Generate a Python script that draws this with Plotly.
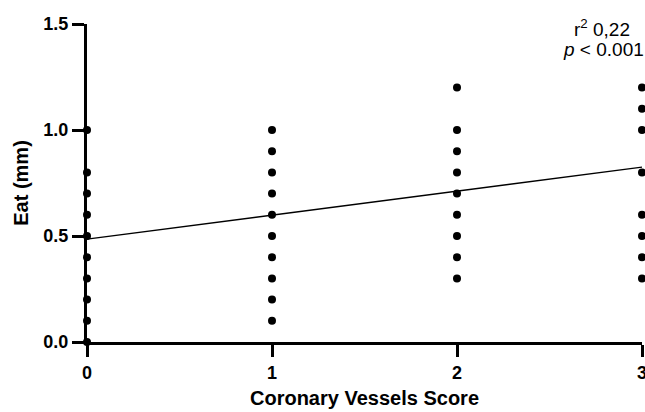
import plotly.graph_objects as go

# Data
score_0 = [0.0, 0.1, 0.2, 0.3, 0.4, 0.5, 0.6, 0.7, 0.8, 1.0]
score_1 = [0.1, 0.2, 0.3, 0.4, 0.5, 0.6, 0.7, 0.8, 0.9, 1.0]
score_2 = [0.3, 0.4, 0.5, 0.6, 0.7, 0.8, 0.9, 1.0, 1.2]
score_3 = [0.3, 0.4, 0.5, 0.6, 0.8, 1.0, 1.1, 1.2]
scores = [0, 1, 2, 3]
fit_x = [0, 3]
fit_y = [0.485, 0.825]
y_ticks = [0.0, 0.5, 1.0, 1.5]

xs, ys = [], []
for s, vals in zip(scores, [score_0, score_1, score_2, score_3]):
    xs += [s] * len(vals)
    ys += vals

FONT = "Arial, Liberation Sans, sans-serif"

fig = go.Figure()
fig.add_trace(go.Scatter(x=fit_x, y=fit_y, mode="lines",
                         line=dict(color="black", width=1.3),
                         cliponaxis=False, showlegend=False))
fig.add_trace(go.Scatter(x=xs, y=ys, mode="markers",
                         marker=dict(color="black", size=8),
                         cliponaxis=False, showlegend=False))

L, R, T, B = 87, 3, 24, 70
W, H = 645, 412
pw, ph = W - L - R, H - T - B

fig.update_layout(
    width=W, height=H,
    margin=dict(l=L, r=R, t=T, b=B),
    plot_bgcolor="white", paper_bgcolor="white",
    font=dict(family=FONT, color="black"),
    xaxis=dict(range=[0, 3], tickvals=scores, showgrid=False, zeroline=False,
               showline=True, linecolor="black", linewidth=3, automargin=False,
               ticks="outside", ticklen=12, tickwidth=3, tickcolor="black",
               ticklabeloverflow="allow",
               tickfont=dict(size=18, family=FONT, weight="bold"),
               title=dict(text="<b>Coronary Vessels Score</b>",
                          font=dict(size=20, family=FONT), standoff=10)),
    yaxis=dict(range=[0, 1.5], tickvals=y_ticks, tickformat=".1f", showgrid=False,
               zeroline=False, showline=True, linecolor="black", linewidth=3,
               automargin=False,
               ticks="outside", ticklen=12, tickwidth=3, tickcolor="black",
               ticklabeloverflow="allow",
               tickfont=dict(size=18, family=FONT, weight="bold"),
               title=dict(text="<b>Eat (mm)</b>",
                          font=dict(size=20, family=FONT), standoff=10)),
    annotations=[
        dict(x=(602 - L) / pw, y=1 - (28 - T) / ph, xref="paper", yref="paper",
             text="r<sup>2</sup> 0,22", showarrow=False,
             font=dict(size=19, family=FONT), xanchor="center", yanchor="middle"),
        dict(x=(603 - L) / pw, y=1 - (50 - T) / ph, xref="paper", yref="paper",
             text="<i>p</i> < 0.001", showarrow=False,
             font=dict(size=19, family=FONT), xanchor="center", yanchor="middle"),
    ],
)

fig.write_html("out.html")
